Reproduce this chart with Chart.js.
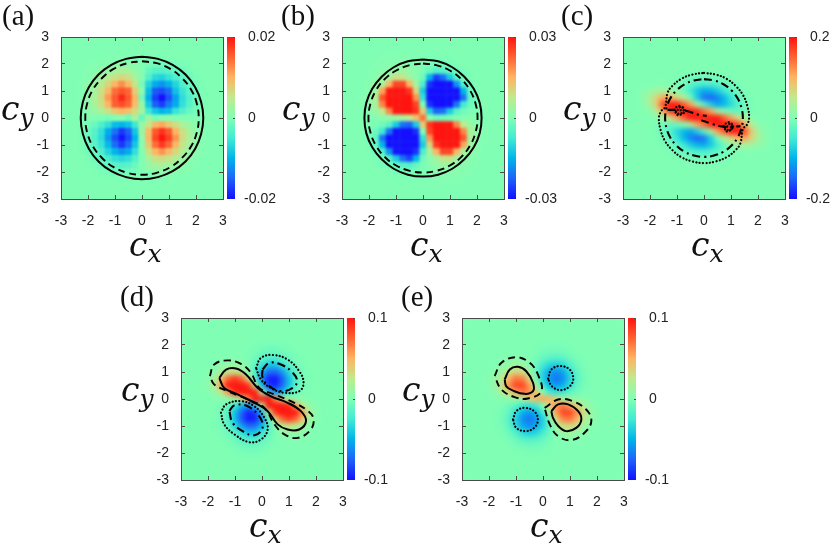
<!DOCTYPE html>
<html>
<head>
<meta charset="utf-8">
<script src="https://cdn.jsdelivr.net/npm/chart.js@4/dist/chart.umd.min.js"></script>
<style>
    html, body { margin: 0; padding: 0; background: #fff; width: 830px; height: 545px; overflow: hidden; }
    canvas { position: absolute; }
    .tag { position: absolute; font-family: "Liberation Serif", "Times New Roman", serif; font-size: 29px; color: #111; line-height: 30px; }
    .math { position: absolute; font-family: "DejaVu Serif", serif; font-style: italic; font-size: 33px; color: #111; line-height: 40px; white-space: nowrap; }
    .math sub { font-size: 25px; vertical-align: -6px; line-height: 0; }
</style>
</head>
<body>
<script>
// grid centres, cells outside this range are just the zero colour
const cxValues = [-2.25, -2, -1.75, -1.5, -1.25, -1, -0.75, -0.5, -0.25, 0, 0.25, 0.5, 0.75, 1, 1.25, 1.5, 1.75, 2, 2.25];
const cyValues = [2.25, 2, 1.75, 1.5, 1.25, 1, 0.75, 0.5, 0.25, 0, -0.25, -0.5, -0.75, -1, -1.25, -1.5, -1.75, -2, -2.25];
const axisTicks = [-3, -2, -1, 0, 1, 2, 3];

const panelNames = ['(a)', '(b)', '(c)', '(d)', '(e)'];
const barMaxes = [0.02, 0.03, 0.2, 0.1, 0.1];

// percent of the colour bar maximum (above 100 is clipped)
const gridA = [
    [0,0,0,0,1,0,1,0,0,0,0,0,-1,0,0,0,0,0,0],
    [0,1,1,2,3,5,6,4,3,0,-3,-5,-6,-5,-3,-2,-1,0,0],
    [0,1,3,7,10,14,17,14,8,1,-10,-16,-17,-14,-10,-7,-3,-1,0],
    [0,2,7,12,22,30,34,30,15,2,-18,-33,-36,-28,-20,-12,-7,-2,0],
    [1,5,10,22,36,50,62,48,28,-4,-36,-52,-60,-50,-36,-20,-10,-4,-1],
    [1,7,15,30,48,72,80,74,38,6,-46,-78,-82,-72,-44,-28,-15,-7,-1],
    [1,8,18,32,58,78,94,78,48,-6,-52,-86,-100,-80,-56,-32,-18,-8,-1],
    [1,7,16,30,50,76,82,74,44,10,-42,-76,-86,-68,-52,-30,-16,-7,-1],
    [0,5,9,18,30,42,50,44,32,14,-26,-42,-50,-46,-28,-18,-9,-4,0],
    [0,0,2,-1,-3,2,4,-5,18,-10,12,-4,2,5,0,2,0,0,0],
    [0,-4,-9,-19,-30,-46,-50,-44,-26,10,28,48,54,42,32,18,9,5,0],
    [-1,-7,-16,-30,-52,-70,-88,-76,-42,12,46,78,90,78,50,30,16,7,1],
    [-1,-8,-18,-32,-58,-82,-98,-82,-50,6,48,84,100,86,60,32,18,8,1],
    [-1,-7,-15,-28,-48,-72,-88,-72,-42,3,42,72,88,74,48,28,15,7,1],
    [-1,-5,-10,-20,-36,-50,-60,-52,-30,2,30,50,60,48,34,22,10,5,1],
    [0,-2,-7,-12,-22,-30,-34,-30,-17,0,16,30,32,28,22,12,7,2,0],
    [0,-1,-3,-7,-10,-15,-17,-15,-9,0,9,15,17,14,10,7,3,1,0],
    [0,0,-1,-2,-3,-6,-7,-5,-3,0,3,5,6,5,3,2,1,0,0],
    [0,0,0,0,-1,-1,0,-1,0,0,0,1,0,1,0,0,0,0,0]
];

const gridB = [
    [0,0,0,1,1,1,2,1,0,0,-1,-1,-1,-1,0,0,0,0,0],
    [0,0,1,2,3,4,5,3,1,-1,-3,-4,-5,-3,-1,0,0,0,0],
    [0,1,2,4,6,9,11,8,3,-2,-10,-18,-16,-10,-6,-3,-1,0,0],
    [0,1,4,8,14,30,28,14,5,-6,-50,-85,-70,-40,-16,-6,-2,0,0],
    [0,3,8,16,50,85,85,50,15,-20,-90,-120,-120,-100,-60,-18,-5,-1,0],
    [0,4,14,55,110,125,120,90,35,-40,-115,-130,-130,-125,-100,-50,-10,-2,0],
    [1,6,18,80,125,130,130,110,60,-30,-110,-130,-130,-130,-110,-70,-12,-3,0],
    [1,6,16,65,115,130,130,120,85,0,-90,-130,-130,-115,-70,-25,-8,-2,0],
    [0,4,10,25,65,100,110,105,90,40,-40,-75,-70,-40,-15,-6,-2,0,0],
    [0,1,2,5,8,12,15,25,45,70,5,-8,-6,-3,-1,2,3,1,0],
    [0,0,-2,-6,-15,-40,-70,-75,-40,40,90,105,110,100,65,25,10,4,0],
    [0,-2,-8,-25,-70,-115,-130,-130,-90,0,85,120,130,130,115,65,16,6,1],
    [0,-3,-12,-70,-110,-130,-130,-130,-110,-30,60,110,130,130,125,80,18,6,1],
    [0,-2,-10,-50,-100,-125,-130,-130,-115,-40,35,90,120,125,110,55,14,4,0],
    [0,-1,-5,-18,-60,-100,-120,-120,-90,-20,15,50,85,85,50,16,8,3,0],
    [0,0,-2,-6,-16,-40,-70,-85,-50,-6,5,14,28,30,14,8,4,1,0],
    [0,0,-1,-3,-6,-10,-16,-18,-10,-2,3,8,11,9,6,4,2,1,0],
    [0,0,0,0,-1,-3,-5,-4,-3,-1,1,3,5,4,3,2,1,0,0],
    [0,0,0,0,0,-1,-1,-1,-1,0,0,1,2,1,1,1,0,0,0]
];

const gridC = [
    [0,0,0,0,0,0,0,0,0,0,0,0,0,0,0,0,0,0,0],
    [0,0,0,0,0,0,0,0,0,0,0,0,0,0,0,0,0,0,0],
    [0,0,0,0,0,0,0,0,0,-1,0,0,0,0,0,0,0,0,0],
    [0,0,0,0,0,-1,-2,-4,-5,-5,-5,-4,-2,-1,0,0,0,0,0],
    [0,0,1,1,0,-2,-6,-12,-18,-21,-20,-15,-10,-5,-2,0,0,0,0],
    [4,8,13,15,11,4,-8,-24,-42,-54,-50,-40,-26,-14,-6,-2,0,0,0],
    [6,17,37,55,50,36,22,-5,-40,-70,-75,-65,-48,-28,-13,-5,-1,0,0],
    [4,15,43,85,105,98,78,56,15,-15,-38,-55,-48,-34,-18,-7,-2,0,0],
    [1,5,21,55,90,115,120,115,95,72,54,20,4,-8,-12,-6,-2,0,0],
    [0,0,4,15,33,56,78,98,110,110,110,98,78,56,33,15,4,0,0],
    [0,0,-2,-6,-12,-8,4,20,54,72,95,115,120,115,90,55,21,5,1],
    [0,0,-2,-7,-18,-34,-48,-55,-38,-15,15,56,78,98,105,85,43,15,4],
    [0,0,-1,-5,-13,-28,-48,-65,-75,-70,-40,-5,22,36,50,55,37,17,6],
    [0,0,0,-2,-6,-14,-26,-40,-50,-54,-42,-24,-8,4,11,15,13,8,4],
    [0,0,0,0,-2,-5,-10,-15,-20,-21,-18,-12,-6,-2,0,1,1,0,0],
    [0,0,0,0,0,-1,-2,-4,-5,-5,-5,-4,-2,-1,0,0,0,0,0],
    [0,0,0,0,0,0,0,0,0,-1,0,0,0,0,0,0,0,0,0],
    [0,0,0,0,0,0,0,0,0,0,0,0,0,0,0,0,0,0,0],
    [0,0,0,0,0,0,0,0,0,0,0,0,0,0,0,0,0,0,0]
];

const gridD = [
    [0,0,0,0,0,0,0,0,0,0,0,0,0,0,0,0,0,0,0],
    [0,0,0,0,0,0,0,0,-1,-2,-3,-3,-2,-1,0,0,0,0,0],
    [0,0,0,0,0,0,0,-1,-3,-6,-8,-8,-6,-3,-1,0,0,0,0],
    [0,0,0,1,2,2,1,-1,-6,-13,-20,-20,-15,-8,-3,-1,0,0,0],
    [0,0,2,5,8,9,6,-1,-12,-28,-42,-42,-30,-16,-6,-2,0,0,0],
    [0,1,5,14,25,30,20,4,-20,-50,-72,-74,-58,-34,-14,-4,-1,0,0],
    [0,3,14,45,75,90,75,35,-15,-65,-95,-98,-78,-46,-18,-5,-1,0,0],
    [1,4,22,60,100,115,115,90,25,-45,-88,-94,-74,-44,-16,-5,-1,0,0],
    [0,2,8,25,60,95,115,120,100,25,-40,-58,-48,-25,-10,-2,0,0,0],
    [0,0,1,3,6,14,35,65,110,125,110,65,35,14,6,3,1,0,0],
    [0,0,0,-2,-10,-25,-48,-58,-40,25,100,120,115,95,60,25,8,2,0],
    [0,0,-1,-5,-16,-44,-74,-94,-88,-45,25,90,115,115,100,60,22,4,1],
    [0,0,-1,-5,-18,-46,-78,-98,-95,-65,-15,35,75,90,75,45,14,3,0],
    [0,0,-1,-4,-14,-34,-58,-74,-72,-50,-20,4,20,30,25,14,5,1,0],
    [0,0,0,-2,-6,-16,-30,-42,-42,-28,-12,-1,6,9,8,5,2,0,0],
    [0,0,0,-1,-3,-8,-15,-20,-20,-13,-6,-1,1,2,2,1,0,0,0],
    [0,0,0,0,-1,-3,-6,-8,-8,-6,-3,-1,0,0,0,0,0,0,0],
    [0,0,0,0,0,-1,-2,-3,-3,-2,-1,0,0,0,0,0,0,0,0],
    [0,0,0,0,0,0,0,0,0,0,0,0,0,0,0,0,0,0,0]
];

const gridE = [
    [0,0,0,0,0,0,0,0,0,0,0,0,0,0,0,0,0,0,0],
    [0,0,0,0,0,0,0,0,-1,-1,-2,-2,-1,-1,0,0,0,0,0],
    [0,0,0,0,0,0,0,0,-1,-4,-6,-6,-5,-3,-1,0,0,0,0],
    [0,0,0,1,2,3,2,0,-4,-10,-15,-17,-15,-8,-3,-1,0,0,0],
    [0,0,1,4,9,13,11,2,-8,-24,-35,-40,-33,-19,-8,-2,0,0,0],
    [0,1,4,13,28,36,32,12,-10,-36,-54,-62,-54,-33,-14,-4,-1,0,0],
    [0,2,9,25,52,70,66,34,-4,-38,-60,-70,-62,-38,-16,-5,-1,0,0],
    [0,2,11,32,64,85,85,58,14,-24,-48,-58,-50,-30,-12,-4,-1,0,0],
    [0,1,6,18,36,56,70,62,40,4,-24,-30,-26,-14,-6,-2,0,0,0],
    [0,0,1,3,6,10,16,34,50,55,50,34,16,10,6,3,1,0,0],
    [0,0,0,-2,-6,-14,-26,-30,-24,4,40,62,70,56,36,18,6,1,0],
    [0,0,-1,-4,-12,-30,-50,-58,-48,-24,14,58,85,85,64,32,11,2,0],
    [0,0,-1,-5,-16,-38,-62,-70,-60,-38,-4,34,66,70,52,25,9,2,0],
    [0,0,-1,-4,-14,-33,-54,-62,-54,-36,-10,12,32,36,28,13,4,1,0],
    [0,0,0,-2,-8,-19,-33,-40,-35,-24,-8,2,11,13,9,4,1,0,0],
    [0,0,0,-1,-3,-8,-15,-17,-15,-10,-4,0,2,3,2,1,0,0,0],
    [0,0,0,0,-1,-3,-5,-6,-6,-4,-1,0,0,0,0,0,0,0,0],
    [0,0,0,0,0,-1,-1,-2,-2,-1,-1,0,0,0,0,0,0,0,0],
    [0,0,0,0,0,0,0,0,0,0,0,0,0,0,0,0,0,0,0]
];

// contour lines as [x, y] pairs
const contoursA = {
    solid: [[[0,2.27],[.59,2.19],[1.135,1.97],[1.61,1.61],[1.97,1.135],[2.19,.59],[2.27,0],[2.19,-.59],[1.97,-1.135],[1.61,-1.61],[1.135,-1.97],[.59,-2.19],[0,-2.27],[-.59,-2.19],[-1.135,-1.97],[-1.61,-1.61],[-1.97,-1.135],[-2.19,-.59],[-2.27,0],[-2.19,.59],[-1.97,1.135],[-1.61,1.61],[-1.135,1.97],[-.59,2.19],[0,2.27]]],
    dashed: [[[0,2.1],[.54,2.03],[1.05,1.82],[1.48,1.48],[1.82,1.05],[2.03,.54],[2.1,0],[2.03,-.54],[1.82,-1.05],[1.48,-1.48],[1.05,-1.82],[.54,-2.03],[0,-2.1],[-.54,-2.03],[-1.05,-1.82],[-1.48,-1.48],[-1.82,-1.05],[-2.03,-.54],[-2.1,0],[-2.03,.54],[-1.82,1.05],[-1.48,1.48],[-1.05,1.82],[-.54,2.03],[0,2.1]]]
};
const contoursB = {
    solid: [[[0,2.17],[.56,2.1],[1.085,1.88],[1.53,1.53],[1.88,1.085],[2.1,.56],[2.17,0],[2.1,-.56],[1.88,-1.085],[1.53,-1.53],[1.085,-1.88],[.56,-2.1],[0,-2.17],[-.56,-2.1],[-1.085,-1.88],[-1.53,-1.53],[-1.88,-1.085],[-2.1,-.56],[-2.17,0],[-2.1,.56],[-1.88,1.085],[-1.53,1.53],[-1.085,1.88],[-.56,2.1],[0,2.17]]],
    dashed: [[[0,2.02],[.52,1.95],[1.01,1.75],[1.43,1.43],[1.75,1.01],[1.95,.52],[2.02,0],[1.95,-.52],[1.75,-1.01],[1.43,-1.43],[1.01,-1.75],[.52,-1.95],[0,-2.02],[-.52,-1.95],[-1.01,-1.75],[-1.43,-1.43],[-1.75,-1.01],[-1.95,-.52],[-2.02,0],[-1.95,.52],[-1.75,1.01],[-1.43,1.43],[-1.01,1.75],[-.52,1.95],[0,2.02]]]
};
const contoursC = {
    dotted: [
        [[0,1.67],[.43,1.61],[.84,1.45],[1.18,1.18],[1.45,.84],[1.61,.43],[1.67,0],[1.59,-.25],[1.44,-.41],[1.35,-.93],[1.18,-1.18],[.84,-1.45],[.43,-1.61],[0,-1.67],[-.43,-1.61],[-.84,-1.45],[-1.18,-1.18],[-1.45,-.84],[-1.61,-.43],[-1.67,0],[-1.59,.25],[-1.44,.41],[-1.35,.93],[-1.18,1.18],[-.84,1.45],[-.43,1.61],[0,1.67]],
        [[-1.1,.3],[-.95,.45],[-.75,.32],[-.9,.15],[-1.1,.3]],
        [[-1.05,.2],[-.85,.42],[-.7,.25],[-.95,.1],[-1.05,.2]],
        [[.72,-.3],[.9,-.15],[1.08,-.3],[.92,-.45],[.72,-.3]],
        [[.78,-.42],[.98,-.2],[1.05,-.38],[.85,-.5],[.78,-.42]]
    ],
    dashdot: [
        [[0,1.44],[.37,1.39],[.72,1.25],[1.02,1.02],[1.25,.72],[1.39,.37],[1.44,0],[1.39,-.37],[1.25,-.72],[1.02,-1.02],[.72,-1.25],[.37,-1.39],[0,-1.44],[-.37,-1.39],[-.72,-1.25],[-1.02,-1.02],[-1.25,-.72],[-1.39,-.37],[-1.44,0],[-1.39,.37],[-1.25,.72],[-1.02,1.02],[-.72,1.25],[-.37,1.39],[0,1.44]],
        [[-1.35,.3],[-1,.3],[-.6,.25],[-.2,.12],[.1,.08]],
        [[-.1,-.08],[.3,-.22],[.7,-.32],[1,-.33],[1.35,-.3]]
    ]
};
const contoursD = {
    solid: [[[-1.58,.78],[-1.33,1.09],[-.96,1.13],[-.59,.91],[-.16,.41],[.33,.10],[.95,-.14],[1.44,-.45],[1.63,-.82],[1.38,-1.13],[.95,-1.13],[.58,-.94],[.21,-.45],[-.28,-.14],[-.9,.17],[-1.4,.41],[-1.58,.78]]],
    dashed: [[[-1.93,.85],[-1.77,1.28],[-1.27,1.43],[-.78,1.30],[-.41,.97],[-.10,.41],[.46,.17],[1.2,-.14],[1.63,-.39],[1.9,-.7],[1.81,-1.13],[1.32,-1.44],[.83,-1.31],[.46,-.94],[.09,-.33],[-.53,-.02],[-1.27,.29],[-1.77,.54],[-1.93,.85]]],
    dotted: [
        [[-.22,1.15],[-.04,1.52],[.4,1.63],[.95,1.46],[1.38,1.03],[1.54,.6],[1.38,.29],[.83,.23],[.33,.41],[-.04,.72],[-.22,1.15]],
        [[-1.52,-.51],[-1.33,-.2],[-.78,-.08],[-.28,-.27],[.09,-.7],[.21,-1.13],[-.04,-1.5],[-.47,-1.6],[-1.02,-1.31],[-1.4,-.94],[-1.52,-.51]]
    ],
    dashdot: [
        [[.02,1.09],[.27,1.34],[.7,1.28],[1.14,.97],[1.3,.66],[1.14,.41],[.7,.29],[.27,.48],[.02,.79],[.02,1.09]],
        [[-1.21,-.45],[-1.02,-.23],[-.53,-.27],[-.1,-.64],[.02,-1.07],[-.28,-1.34],[-.72,-1.19],[-1.09,-.88],[-1.21,-.45]]
    ]
};
const contoursE = {
    solid: [
        [[-1.42,.72],[-1.23,1.09],[-.93,1.19],[-.62,1.03],[-.37,.6],[-.37,.29],[-.68,.19],[-1.11,.31],[-1.36,.47],[-1.42,.72]],
        [[.31,-.45],[.56,-.2],[.93,-.2],[1.3,-.45],[1.42,-.76],[1.23,-1.07],[.86,-1.19],[.56,-1.0],[.37,-.7],[.31,-.45]]
    ],
    dashed: [
        [[-1.79,.85],[-1.54,1.34],[-.99,1.55],[-.49,1.34],[-.19,.91],[-.06,.29],[-.56,.02],[-1.05,.07],[-1.54,.35],[-1.79,.85]],
        [[.06,-.33],[.56,-.02],[1.05,-.06],[1.6,-.39],[1.79,-.82],[1.54,-1.25],[1.05,-1.52],[.56,-1.38],[.25,-.94],[.06,-.33]]
    ],
    dotted: [
        [[.19,.75],[.31,1.09],[.62,1.22],[.99,1.09],[1.12,.75],[.99,.47],[.65,.33],[.33,.47],[.19,.75]],
        [[-1.11,-.76],[-.99,-.45],[-.68,-.33],[-.33,-.45],[-.19,-.76],[-.33,-1.07],[-.65,-1.19],[-.99,-1.07],[-1.11,-.76]]
    ]
};

const panelGrids = [gridA, gridB, gridC, gridD, gridE];
const panelContours = [contoursA, contoursB, contoursC, contoursD, contoursE];

// where things sit on the page
const plotLefts = [61, 342, 623, 181, 462];
const plotTops = [37, 37, 37, 318, 318];
const barLefts = [227, 508, 789, 347, 628];
const tagLefts = [2, 281, 561, 120, 401];
const blurSizes = [1.2, 1.8, 2.5, 2.8, 2.8];
const lowLabelPads = [-19, -19, -27, -27, -27];

const PLOT_SIZE = 162;
const TICK_COLOR = '#4a4a4a';
const TICK_FONT = { family: '"Liberation Sans", sans-serif', size: 14 };

// same look as the gnuplot palette in the picture
const paletteLevels = [-1, -0.75, -0.5, -0.25, 0, 0.25, 0.5, 0.75, 1];
const paletteColors = [
    [20, 15, 255], [30, 98, 250], [0, 180, 235], [64, 235, 212], [128, 255, 180],
    [191, 235, 141], [255, 180, 98], [255, 98, 50], [255, 20, 15]
];

const dashStyles = {
    solid: { dash: [], width: 2, cap: 'butt' },
    dashed: { dash: [7, 4.5], width: 1.9, cap: 'butt' },
    dotted: { dash: [0.1, 3.3], width: 2.2, cap: 'round' },
    dashdot: { dash: [8, 4, 2, 4], width: 2.1, cap: 'butt' }
};

function levelColor(level) {
    const t = Math.max(-1, Math.min(1, level / 100));
    let i = 0;
    while (i < paletteLevels.length - 2 && t > paletteLevels[i + 1]) i++;
    const f = (t - paletteLevels[i]) / (paletteLevels[i + 1] - paletteLevels[i]);
    const a = paletteColors[i], b = paletteColors[i + 1];
    return `rgb(${Math.round(a[0] + (b[0] - a[0]) * f)},${Math.round(a[1] + (b[1] - a[1]) * f)},${Math.round(a[2] + (b[2] - a[2]) * f)})`;
}

// zero colour under the cells, then the finished cells are softened as one image
const heatPlugin = {
    id: 'heat',
    beforeDatasetsDraw(chart) {
        const { ctx, chartArea: a } = chart;
        ctx.save();
        ctx.fillStyle = levelColor(0);
        ctx.fillRect(a.left, a.top, a.width, a.height);
        ctx.restore();
    },
    afterDatasetDraw(chart, args) {
        if (!args.meta.controller.getDataset().isCells) return;
        const { ctx, canvas, chartArea: a } = chart;
        ctx.save();
        ctx.beginPath();
        ctx.rect(a.left, a.top, a.width, a.height);
        ctx.clip();
        ctx.filter = `blur(${chart.options.plugins.heat.blur}px)`;
        ctx.drawImage(canvas, a.left, a.top, a.width, a.height, a.left, a.top, a.width, a.height);
        ctx.restore();
    }
};

function addCanvas(left, top, width, height) {
    const canvas = document.createElement('canvas');
    canvas.width = width;
    canvas.height = height;
    canvas.style.left = left + 'px';
    canvas.style.top = top + 'px';
    canvas.style.width = width + 'px';
    canvas.style.height = height + 'px';
    document.body.appendChild(canvas);
    return canvas;
}

function addText(className, left, top, html) {
    const div = document.createElement('div');
    div.className = className;
    div.style.left = left + 'px';
    div.style.top = top + 'px';
    div.innerHTML = html;
    document.body.appendChild(div);
}

function fixedTicks(scale) {
    scale.ticks = axisTicks.map(value => ({ value }));
}

// the scale adds tick padding to the chart margins, which would shrink the fixed plot size
function clearPadding(scale) {
    scale.paddingLeft = scale.paddingRight = scale.paddingTop = scale.paddingBottom = 0;
}

function axisOptions(position, showLabels, padding) {
    const horizontal = position === 'bottom' || position === 'top';
    return {
        type: 'linear',
        position,
        min: -3,
        max: 3,
        afterBuildTicks: fixedTicks,
        afterFit(scale) {
            const size = showLabels ? (horizontal ? 30 : 40) : 0;
            if (horizontal) scale.height = size; else scale.width = size;
            clearPadding(scale);
        },
        grid: { drawOnChartArea: false, drawTicks: true, tickLength: -4, color: TICK_COLOR, z: 1 },
        border: { display: true, color: TICK_COLOR, z: 1 },
        ticks: { display: showLabels, padding, color: '#222', font: TICK_FONT, maxRotation: 0, autoSkip: false }
    };
}

function drawPanel(p) {
    const cells = [];
    const cellColors = [];
    cyValues.forEach((cy, r) => {
        cxValues.forEach((cx, c) => {
            cells.push({ x: cx, y: cy });
            cellColors.push(levelColor(panelGrids[p][r][c]));
        });
    });

    const datasets = [{
        isCells: true,
        order: 10,
        data: cells,
        pointStyle: 'rect',
        pointRadius: 5,
        pointBorderWidth: 0,
        pointBackgroundColor: cellColors
    }];

    Object.keys(panelContours[p]).forEach(kind => {
        const style = dashStyles[kind];
        panelContours[p][kind].forEach(line => {
            datasets.push({
                order: 1,
                data: line.map(pt => ({ x: pt[0], y: pt[1] })),
                showLine: true,
                tension: 0.4,
                fill: false,
                pointRadius: 0,
                borderColor: '#000',
                borderWidth: style.width,
                borderDash: style.dash,
                borderCapStyle: style.cap
            });
        });
    });

    new Chart(addCanvas(plotLefts[p] - 40, plotTops[p] - 10, 40 + PLOT_SIZE + 10, 10 + PLOT_SIZE + 30), {
        type: 'scatter',
        data: { datasets },
        plugins: [heatPlugin],
        options: {
            responsive: false,
            animation: false,
            events: [],
            layout: { autoPadding: false, padding: { top: 10, right: 10, left: 0, bottom: 0 } },
            plugins: { legend: { display: false }, tooltip: { enabled: false }, heat: { blur: blurSizes[p] } },
            scales: {
                x: axisOptions('bottom', true, 18),
                y: axisOptions('left', true, 16),
                x2: axisOptions('top', false, 0),
                y2: axisOptions('right', false, 0)
            }
        }
    });
}

function drawColorBar(p) {
    const max = barMaxes[p];
    new Chart(addCanvas(barLefts[p], plotTops[p] - 10, 68, PLOT_SIZE + 20), {
        type: 'bar',
        data: {
            labels: [''],
            datasets: [{
                data: [[-max, max]],
                barPercentage: 1,
                categoryPercentage: 1,
                backgroundColor(context) {
                    const { chart } = context;
                    if (!chart.chartArea) return '#80ffb4';
                    const y = chart.scales.y;
                    const g = chart.ctx.createLinearGradient(0, y.getPixelForValue(-max), 0, y.getPixelForValue(max));
                    paletteLevels.forEach(level => {
                        g.addColorStop((level + 1) / 2, levelColor(level * 100));
                    });
                    return g;
                }
            }]
        },
        options: {
            responsive: false,
            animation: false,
            events: [],
            layout: { autoPadding: false, padding: { top: 10, bottom: 10, left: 0, right: 0 } },
            plugins: { legend: { display: false }, tooltip: { enabled: false } },
            scales: {
                x: { display: false },
                y: {
                    type: 'linear',
                    position: 'right',
                    min: -max,
                    max,
                    afterBuildTicks(scale) { scale.ticks = [{ value: max }, { value: 0 }]; },
                    afterFit(scale) { scale.width = 60; clearPadding(scale); },
                    grid: { drawOnChartArea: false, tickLength: -2, color: TICK_COLOR, z: 1 },
                    border: { display: false },
                    ticks: { padding: 15, color: '#222', font: TICK_FONT, callback: v => String(v) }
                },
                // mirrored so it can sit over the other axis, the negative label starts further left
                yLow: {
                    type: 'linear',
                    axis: 'y',
                    position: 'right',
                    min: -max,
                    max,
                    afterBuildTicks(scale) { scale.ticks = [{ value: -max }]; },
                    afterFit(scale) { scale.width = 0; clearPadding(scale); },
                    grid: { display: false, drawTicks: false },
                    border: { display: false },
                    ticks: { mirror: true, padding: lowLabelPads[p], color: '#222', font: TICK_FONT, callback: v => String(v) }
                }
            }
        }
    });
}

panelNames.forEach((name, p) => {
    drawPanel(p);
    drawColorBar(p);
    addText('tag', tagLefts[p], plotTops[p] - 37, name);
    addText('math', plotLefts[p] + 68, plotTops[p] + 188, 'c<sub>x</sub>');
    addText('math', plotLefts[p] - 60, plotTops[p] + 52, 'c<sub>y</sub>');
});
</script>
</body>
</html>
